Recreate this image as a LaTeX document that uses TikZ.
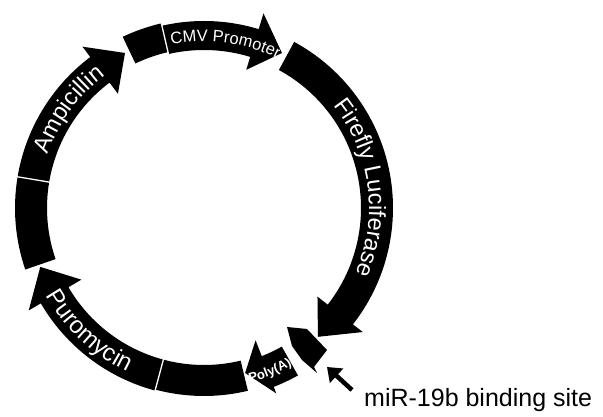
\documentclass[tikz,border=0pt]{standalone}
\usepackage{fontspec}
\setmainfont{Liberation Sans}
\newfontfamily\arialf{Liberation Sans}
\usetikzlibrary{decorations.text,arrows.meta}
% arc arrow: #1 start, #2 head base, #3 tip, #4 inner r, #5 outer r, #6 head inner r, #7 head outer r, #8 tip r
\newcommand\ArcArr[8]{(#1:#5pt) arc[start angle=#1,end angle=#2,radius=#5pt] -- (#2:#7pt) -- (#3:#8pt) -- (#2:#6pt) -- (#2:#4pt) arc[start angle=#2,end angle=#1,radius=#4pt] -- cycle}
% band: #1 start, #2 end, #3 inner r, #4 outer r
\newcommand\ArcBand[4]{(#1:#4pt) arc[start angle=#1,end angle=#2,radius=#4pt] -- (#2:#3pt) arc[start angle=#2,end angle=#1,radius=#3pt] -- cycle}
\begin{document}
\begin{tikzpicture}[x=1pt,y=1pt,
  seg/.style={fill=black},
  sep/.style={draw=white,line width=1.3pt},
  ptr/.style={line width=4.5pt,-{Triangle[length=13pt,width=19pt]}}]
\useasboundingbox (0,0) rectangle (603,417);
\fill[white] (0,0) rectangle (603,417);
\begin{scope}[shift={(204,209)}]
  % segments
  \fill[seg] \ArcBand{170.5}{199}{157}{189};
  \fill[seg] \ArcArr{170.5}{127}{117}{157}{189}{143}{202}{174};
  \fill[seg] \ArcBand{115.4}{103}{160}{189.5};
  \fill[seg] \ArcArr{103}{73}{63.3}{158}{187}{144.5}{203.5}{173.5};
  \fill[seg] \ArcArr{61.5}{-38}{-48.5}{157}{189}{144}{201.5}{172};
  \fill[seg] \ArcArr{-60.7}{-68.7}{-76}{159}{192}{142}{199}{170};
  \fill[seg] \ArcBand{255}{283.5}{157}{188};
  \fill[seg] \ArcArr{255}{210.3}{199.8}{157}{189}{142}{203}{174};
  % separators
  \draw[sep] (170.5:154pt) -- (170.5:192pt);
  \draw[sep] (103:155pt) -- (103:192pt);
  \draw[sep] (255:154pt) -- (255:192pt);
  % labels
  \path[decorate,decoration={text along path,text align=center,text color=white,
     text={|\arialf\fontsize{23.5}{24}\selectfont|Ampicillin}}]
     (170:165pt) arc[start angle=170,end angle=118,radius=165pt];
  \begin{scope}
    \clip \ArcArr{103}{73}{63.3}{158}{187}{144.5}{203.5}{173.5};
    \clip (0,0) -- (64.6:260pt) -- (110:260pt) -- cycle;
    \path[decorate,decoration={text along path,text align=left,text color=white,
       text={|\arialf\fontsize{16.5}{17}\selectfont|CMV Promoter}}]
       (101.3:166.5pt) arc[start angle=101.3,end angle=30,radius=166.5pt];
  \end{scope}
  \path[decorate,decoration={text along path,text align=center,text color=white,
     text={|\arialf\fontsize{23.5}{24}\selectfont|Firefly Luciferase}}]
     (60:165pt) arc[start angle=60,end angle=-45,radius=165pt];
  \path[decorate,decoration={text along path,text align=center,text color=white,
     text={|\arialf\fontsize{24}{24}\selectfont|Puromycin}}]
     (200:181pt) arc[start angle=200,end angle=254,radius=181pt];
  \path[decorate,decoration={text along path,text align=center,text color=white,
     text={|\arialf\bfseries\fontsize{13}{13}\selectfont|Poly(A)}}]
     (-90:180.5pt) arc[start angle=-90,end angle=-46,radius=180.5pt];
\end{scope}
% miR-19b binding site block
\fill[seg] (287,90) -- (307,88) -- (327,67) -- (314,50) -- (317,44) -- (302,57) -- (292,71) -- cycle;
\node[anchor=base west,inner sep=0pt,font=\arialf\fontsize{25}{30}\selectfont] (lbl) at (364,10) {miR-19b binding site};
\coordinate (ptail) at (352,27);
\coordinate (ptip) at (327,50);
\draw[ptr] (ptail) -- (ptip);
\end{tikzpicture}
\end{document}
